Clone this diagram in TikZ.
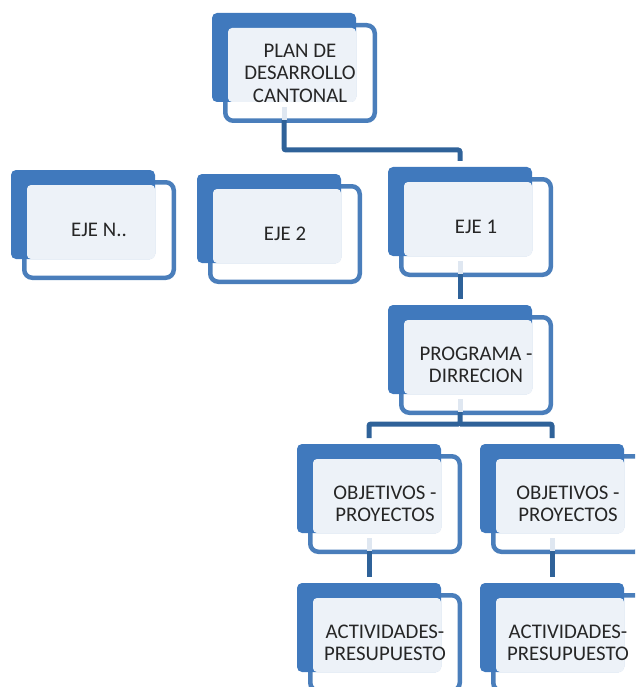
\documentclass[tikz,border=0pt]{standalone}
\usepackage{fontspec}
\setmainfont{Carlito}
\definecolor{backblue}{HTML}{4079BD}
\definecolor{edgeblue}{HTML}{4A7EBB}
\definecolor{linkblue}{HTML}{2F6299}
\definecolor{panelgray}{HTML}{EDF2F8}
\definecolor{stubgray}{HTML}{DFE7F1}
\tikzset{
  boxframe/.style={draw=edgeblue, fill=white, line width=4.5pt, rounded corners=8pt,
    minimum width=149.5pt, minimum height=95.5pt, inner sep=0pt, outer sep=0pt},
  boxback/.style={fill=backblue, rounded corners=5pt, minimum width=144pt,
    minimum height=89pt, inner sep=0pt, outer sep=0pt},
  boxpanel/.style={fill=panelgray, rounded corners=4pt, minimum width=128pt,
    minimum height=74pt, inner sep=0pt, outer sep=0pt},
  boxtext/.style={align=center, text=black!85, font=\fontsize{20.8}{22.5}\selectfont},
  link/.style={draw=linkblue, line width=5pt, rounded corners=2pt},
  linkstub/.style={draw=stubgray, line width=5pt}
}
\begin{document}
\begin{tikzpicture}[x=1pt, y=-1pt]
  \useasboundingbox (0,0) rectangle (635,687);
  \clip (0,0) rectangle (635,687);

  % boxes: name / left / top of the blue card / text
  \foreach \n/\x/\y/\t in {plan/212/13/{PLAN DE\\DESARROLLO\\CANTONAL},
                           ejen/11/170/{EJE N..},
                           eje2/197/174/{EJE 2},
                           eje1/388/167/{EJE 1},
                           prog/388/305/{PROGRAMA -\\DIRRECION},
                           obj1/297/444/{OBJETIVOS -\\PROYECTOS},
                           obj2/480/444/{OBJETIVOS -\\PROYECTOS},
                           act1/297/583/{ACTIVIDADES-\\PRESUPUESTO},
                           act2/480/583/{ACTIVIDADES-\\PRESUPUESTO}} {
    \node[boxframe] (\n-f) at ({\x+88},{\y+60}) {};
    \node[boxback] (\n) at ({\x+72},{\y+44.5}) {};
    \node[boxpanel] (\n-p) at ({\x+80},{\y+52}) {};
    \node[boxtext] (\n-t) at (\n-f.center) {\t};
  }

  % connectors, leaving the frame at its lower edge
  \draw[link] ([yshift=-18pt]plan.south) -- ++(0,30) -| ([yshift=6pt]eje1.north);
  \draw[link] ([yshift=-18pt]eje1.south) -- ([yshift=6pt]prog.north);
  \draw[link] ([yshift=-18pt]prog.south) -- ++(0,12) coordinate (fork) -| ([yshift=6pt]obj1.north);
  \draw[link] (fork) -| ([yshift=6pt]obj2.north);
  \draw[link] ([yshift=-18pt]obj1.south) -- ([yshift=6pt]act1.north);
  \draw[link] ([yshift=-18pt]obj2.south) -- ([yshift=6pt]act2.north);

  % pale stubs inside the frames
  \foreach \n in {plan, eje1, prog, obj1, obj2}
    \draw[linkstub] ([yshift=-5pt]\n.south) -- ([yshift=-18pt]\n.south);
\end{tikzpicture}
\end{document}
